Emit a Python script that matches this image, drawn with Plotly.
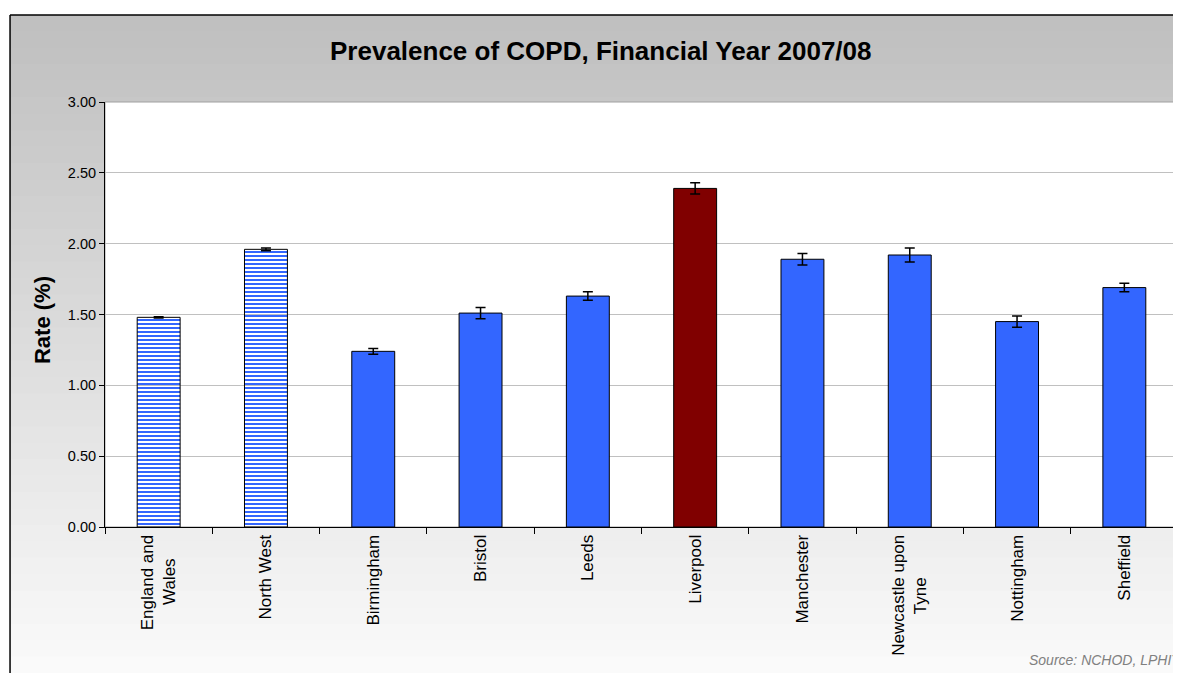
import plotly.graph_objects as go

categories = ["England and<br>Wales" + "&nbsp;" * 5, "North West", "Birmingham", "Bristol", "Leeds",
              "Liverpool", "Manchester", "Newcastle upon<br>Tyne" + "&nbsp;" * 9, "Nottingham", "Sheffield"]
rates = [1.48, 1.96, 1.24, 1.51, 1.63, 2.39, 1.89, 1.92, 1.45, 1.69]
errors = [0.005, 0.01, 0.02, 0.04, 0.03, 0.04, 0.04, 0.05, 0.04, 0.03]
bar_colors = ["#3366ff", "#3366ff", "#3366ff", "#3366ff", "#3366ff",
              "#800000", "#3366ff", "#3366ff", "#3366ff", "#3366ff"]
bar_patterns = ["-", "-", "", "", "", "", "", "", "", ""]
y_ticks = [0, 0.5, 1.0, 1.5, 2.0, 2.5, 3.0]

FONT = "Arial, Liberation Sans, sans-serif"

fig = go.Figure()
fig.add_trace(go.Bar(
    x=categories, y=rates,
    marker=dict(
        color=bar_colors,
        line=dict(color="black", width=1),
        pattern=dict(shape=bar_patterns, fgcolor="#3366ff", bgcolor="#dfe7ff",
                     size=4, solidity=0.5, fillmode="replace"),
    ),
    error_y=dict(type="data", array=errors, color="black", thickness=1.5, width=5),
))

# gradient background (grey at top fading to near white at bottom)
x0, x1 = -0.0885, 1.02
y_top, y_bot = 1.2047, -0.3435
n = 40
shapes = []
for i in range(n):
    f = i / (n - 1)
    c = int(192 + (250 - 192) * f)
    ya = y_top - (y_top - y_bot) * i / n
    yb = y_top - (y_top - y_bot) * (i + 1) / n
    shapes.append(dict(type="rect", xref="paper", yref="paper", x0=x0, x1=x1,
                       y0=yb - 0.002, y1=ya, fillcolor=f"rgb({c},{c},{c})",
                       line=dict(width=0), layer="below"))
# plot area
shapes.append(dict(type="rect", xref="paper", yref="paper", x0=0, x1=1, y0=0, y1=1,
                   fillcolor="white", line=dict(color="#a0a0a0", width=1), layer="below"))
# outer chart border
shapes.append(dict(type="line", xref="paper", yref="paper", x0=x0, x1=x0, y0=y_bot, y1=y_top,
                   line=dict(color="black", width=1.5)))
shapes.append(dict(type="line", xref="paper", yref="paper", x0=x0, x1=x1, y0=y_top, y1=y_top,
                   line=dict(color="black", width=1.5)))

# page body has an 8px margin, so the figure is shrunk and margins offset by 8px
fig.update_layout(
    width=1173, height=665,
    margin=dict(l=97, r=3, t=94, b=146),
    paper_bgcolor="white", plot_bgcolor="white",
    font=dict(family=FONT, color="black"),
    showlegend=False,
    bargap=0.6,
    shapes=shapes,
    annotations=[
        dict(text="<b>Prevalence of COPD, Financial Year 2007/08</b>", xref="paper", yref="paper",
             x=0.462, y=1.12, xanchor="center", yanchor="middle", showarrow=False,
             font=dict(size=26, family=FONT)),
        dict(text="<b>Rate (%)</b>", xref="paper", yref="paper",
             x=-0.0587, y=0.487, xanchor="center", yanchor="middle", showarrow=False,
             textangle=-90, font=dict(size=22, family=FONT)),
        dict(text="<i>Source: NCHOD, LPHIT</i>", xref="paper", yref="paper",
             x=0.859, y=-0.313, xanchor="left", yanchor="middle", showarrow=False,
             font=dict(size=14, color="#808080", family=FONT)),
    ],
)
fig.update_yaxes(
    range=[0, 3], tickvals=y_ticks, ticktext=[f"{v:.2f}" for v in y_ticks],
    showgrid=True, gridcolor="#c0c0c0", gridwidth=1, zeroline=False,
    showline=True, linecolor="black", linewidth=1,
    ticks="outside", ticklen=5, tickcolor="black",
    tickfont=dict(size=14.5),
)
fig.update_xaxes(
    showline=True, linecolor="black", linewidth=1,
    ticks="outside", ticklen=6, tickcolor="black", tickson="boundaries",
    tickangle=-90, tickfont=dict(size=17),
    showgrid=False,
)

fig.write_html("out.html")
